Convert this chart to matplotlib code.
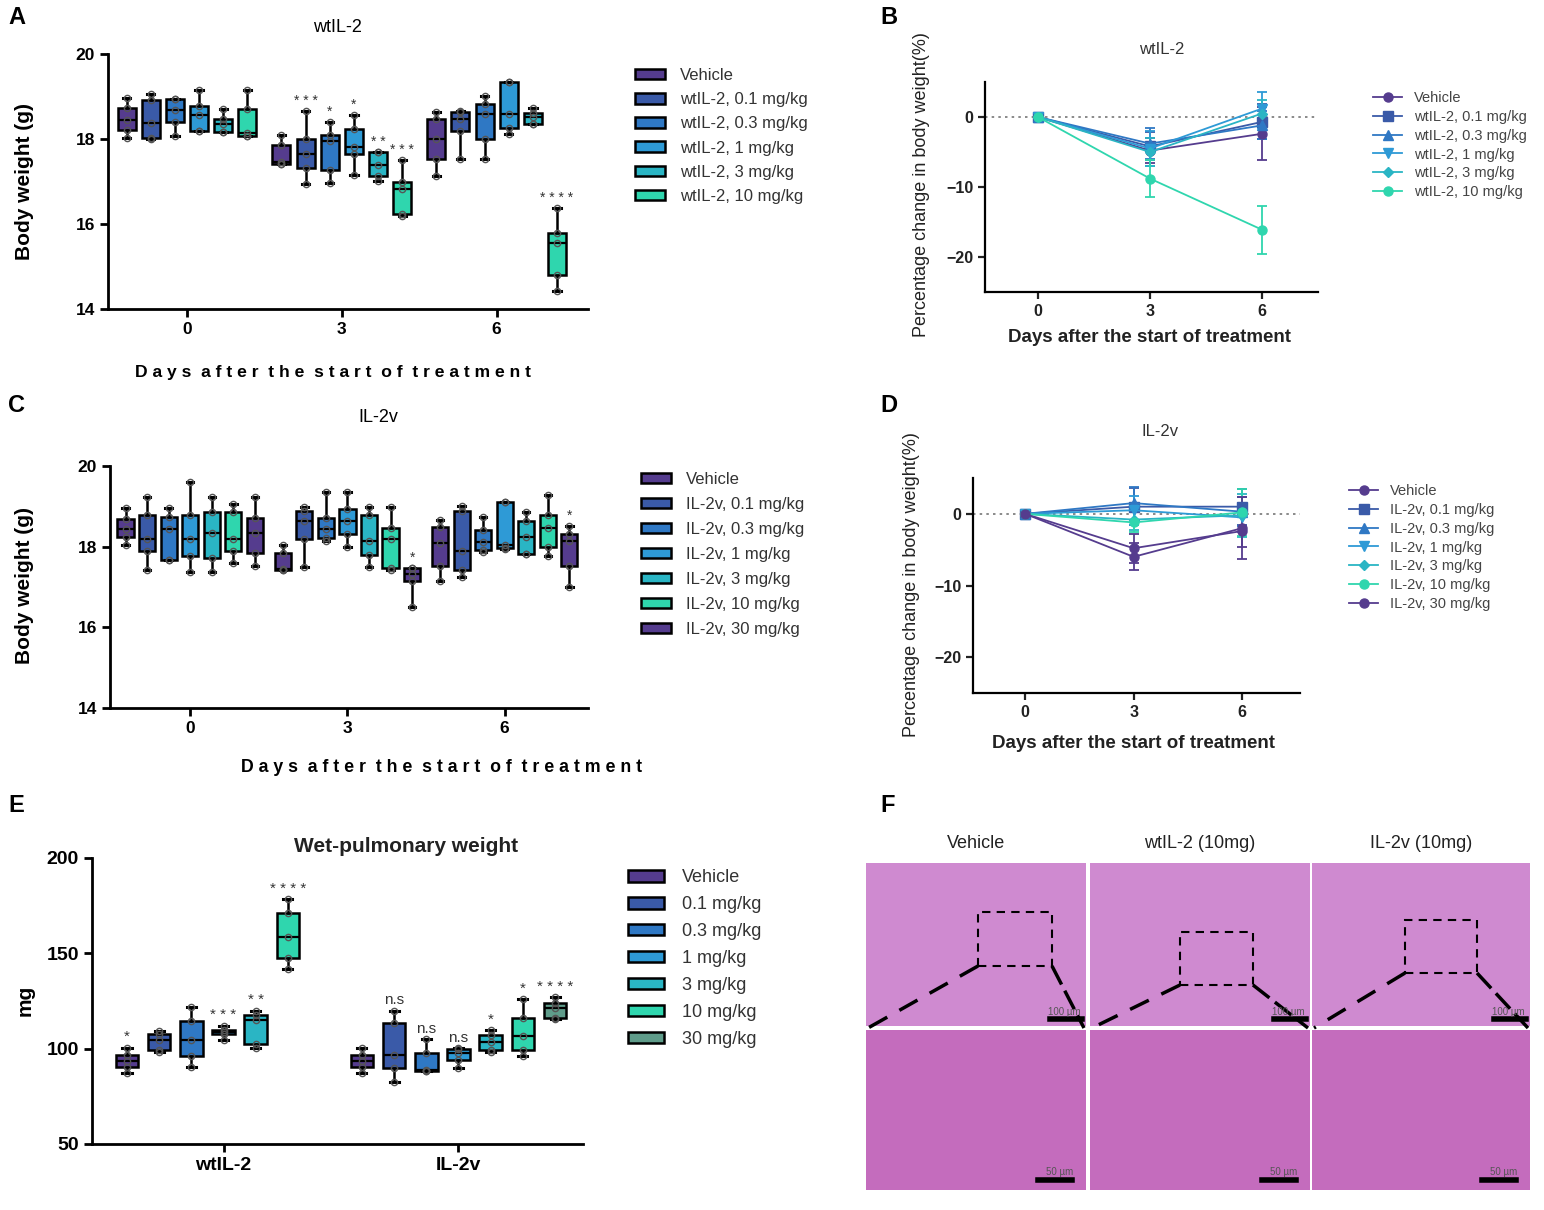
import numpy as np
import matplotlib.pyplot as plt
from matplotlib.patches import Patch, Rectangle
from matplotlib.lines import Line2D

plt.rcParams['font.family'] = ['Liberation Sans', 'DejaVu Sans']

W, H = 1544, 1210

# colours
PURPLE = '#553c8e'
DBLUE = '#3a5aa8'
BLUE = '#2f78c4'
LBLUE = '#2e9ad6'
CYAN = '#2ab5c4'
TEAL = '#2fd6ae'
GREYGREEN = '#5f9c8a'

# ---------------- data ----------------
days = [0, 3, 6]

wt_labels = ['Vehicle', 'wtIL-2, 0.1 mg/kg', 'wtIL-2, 0.3 mg/kg', 'wtIL-2, 1 mg/kg',
             'wtIL-2, 3 mg/kg', 'wtIL-2, 10 mg/kg']
v_labels = ['Vehicle', 'IL-2v, 0.1 mg/kg', 'IL-2v, 0.3 mg/kg', 'IL-2v, 1 mg/kg',
            'IL-2v, 3 mg/kg', 'IL-2v, 10 mg/kg', 'IL-2v, 30 mg/kg']
e_labels = ['Vehicle', '0.1 mg/kg', '0.3 mg/kg', '1 mg/kg', '3 mg/kg', '10 mg/kg', '30 mg/kg']

# box stats: (min, q1, median, q3, max) per dose
a_day0 = [[18.02, 18.22, 18.44, 18.72, 18.97],
          [18.00, 18.02, 18.38, 18.92, 19.06],
          [18.06, 18.40, 18.68, 18.93, 18.93],
          [18.20, 18.20, 18.56, 18.77, 19.15],
          [18.17, 18.17, 18.35, 18.47, 18.70],
          [18.06, 18.06, 18.13, 18.70, 19.15]]
a_day3 = [[17.42, 17.42, 17.45, 17.87, 18.09],
          [16.93, 17.32, 17.65, 18.01, 18.66],
          [16.96, 17.27, 17.95, 18.09, 18.40],
          [17.16, 17.65, 17.81, 18.23, 18.56],
          [17.02, 17.12, 17.38, 17.69, 17.69],
          [16.20, 16.23, 16.82, 17.00, 17.51]]
a_day6 = [[17.14, 17.52, 18.01, 18.48, 18.64],
          [17.52, 18.19, 18.46, 18.64, 18.66],
          [17.54, 17.99, 18.60, 18.82, 19.01],
          [18.11, 18.25, 18.60, 19.35, 19.35],
          [18.35, 18.35, 18.52, 18.62, 18.72],
          [14.43, 14.79, 15.56, 15.78, 16.37]]
a_stars = [['', '', '', '', '', ''],
           ['', '***', '*', '*', '**', '***'],
           ['', '', '', '', '', '****']]

c_day0 = [[18.03, 18.23, 18.44, 18.69, 18.96],
          [17.43, 17.89, 18.19, 18.79, 19.22],
          [17.66, 17.66, 18.44, 18.74, 18.96],
          [17.37, 17.76, 18.19, 18.79, 19.61],
          [17.37, 17.72, 18.33, 18.87, 19.22],
          [17.59, 17.89, 18.19, 18.85, 19.07],
          [17.51, 17.84, 18.33, 18.70, 19.22]]
c_day3 = [[17.43, 17.43, 17.45, 17.84, 18.04],
          [17.49, 18.18, 18.63, 18.89, 18.99],
          [18.15, 18.22, 18.44, 18.71, 19.36],
          [17.99, 18.32, 18.64, 18.93, 19.36],
          [17.49, 17.80, 18.13, 18.79, 18.99],
          [17.43, 17.48, 18.19, 18.46, 18.99],
          [16.51, 17.14, 17.33, 17.48, 17.48]]
c_day6 = [[17.14, 17.53, 18.09, 18.50, 18.66],
          [17.25, 17.43, 17.89, 18.89, 19.01],
          [17.86, 17.92, 18.11, 18.41, 18.74],
          [17.95, 17.97, 18.03, 19.10, 19.10],
          [17.81, 17.82, 18.23, 18.64, 18.87],
          [17.76, 17.99, 18.46, 18.79, 19.28],
          [17.00, 17.53, 18.15, 18.32, 18.52]]
c_stars = [['', '', '', '', '', '', ''],
           ['', '', '', '', '', '', '*'],
           ['', '', '', '', '', '', '*']]

# percentage change in body weight (mean, sd) at days 0, 3, 6
b_mean = [[0, -4.8, -2.4], [0, -4.2, -0.7], [0, -3.8, -1.2],
          [0, -4.5, 1.2], [0, -5.0, 0.5], [0, -8.8, -16.1]]
b_sd = [[0, 1.8, 3.8], [0, 2.0, 2.5], [0, 2.2, 2.0],
        [0, 2.5, 2.4], [0, 2.0, 2.0], [0, 2.6, 3.4]]
d_mean = [[0, -4.8, -2.4], [0, 1.0, 1.0], [0, 1.5, 0.3], [0, 0.5, -0.5],
          [0, -0.8, -0.2], [0, -1.2, 0.2], [0, -6.0, -2.0]]
d_sd = [[0, 2.0, 2.2], [0, 2.6, 2.5], [0, 2.3, 2.0], [0, 2.0, 2.0],
        [0, 1.5, 3.0], [0, 1.4, 3.3], [0, 1.9, 4.3]]

# wet pulmonary weight (mg)
e_groups = ['wtIL-2', 'IL-2v']
e_wt = [[87.1, 90.6, 93.3, 96.7, 100.6],
        [98.0, 99.4, 104.6, 107.7, 109.5],
        [90.6, 96.4, 104.6, 114.5, 121.7],
        [104.6, 107.6, 108.6, 109.8, 112.1],
        [100.2, 102.3, 115.1, 117.7, 119.8],
        [141.7, 147.3, 158.7, 171.4, 178.4]]
e_v = [[87.1, 90.3, 93.6, 96.7, 100.6],
       [82.4, 89.8, 96.7, 113.7, 119.8],
       [88.4, 88.4, 88.9, 97.6, 104.9],
       [89.8, 94.1, 97.6, 99.7, 100.2],
       [98.1, 99.4, 103.7, 107.2, 109.8],
       [96.2, 99.4, 106.7, 116.3, 126.0],
       [115.6, 115.9, 121.5, 123.8, 126.9]]
e_wt_stars = ['*', '', '', '***', '**', '****']
e_v_stars = ['', 'n.s', 'n.s', 'n.s', '*', '*', '****']

wt_colors = [PURPLE, DBLUE, BLUE, LBLUE, CYAN, TEAL]
v_colors = wt_colors + [PURPLE]
e_colors = wt_colors + [GREYGREEN]
b_markers = ['o', 's', '^', 'v', 'D', 'o']
d_markers = ['o', 's', '^', 'v', 'D', 'o', 'o']


def rect(l, t, r, b):
    return [l / W, 1 - b / H, (r - l) / W, (b - t) / H]


def box_group(ax, stats, center, step, colors, width, stars=None, star_fs=10, offsets=None):
    n = len(stats)
    if offsets is None:
        offsets = [i - (n - 1) / 2 for i in range(n)]
    pos = [center + o * step for o in offsets]
    bstats = [dict(whislo=s[0], q1=s[1], med=s[2], q3=s[3], whishi=s[4], fliers=[]) for s in stats]
    bp = ax.bxp(bstats, positions=pos, widths=width * step, patch_artist=True,
                showfliers=False, capwidths=0.4 * step * width,
                boxprops=dict(linewidth=1.8, edgecolor='black'),
                medianprops=dict(color='black', linewidth=1.6),
                whiskerprops=dict(linewidth=1.8), capprops=dict(linewidth=2.2),
                manage_ticks=False)
    for patch, c in zip(bp['boxes'], colors):
        patch.set_facecolor(c)
    for p, s in zip(pos, stats):
        ax.plot([p] * 5, s, 'o', ms=4.5, mfc='none', mec='#555555', mew=1.0, zorder=5)
    if stars:
        yr = ax.get_ylim()
        off = (yr[1] - yr[0]) * 0.012
        for p, s, st in zip(pos, stats, stars):
            if st:
                txt = st if st == 'n.s' else ' '.join(st)
                ax.text(p, s[4] + off, txt, ha='center', va='bottom',
                        fontsize=star_fs, color='#333333')


def style_box_axes(ax):
    for sp in ['top', 'right']:
        ax.spines[sp].set_visible(False)
    for sp in ['left', 'bottom']:
        ax.spines[sp].set_linewidth(2)
    ax.tick_params(width=2, length=6, labelsize=12.5)
    for lab in ax.get_xticklabels() + ax.get_yticklabels():
        lab.set_fontweight('bold')


fig = plt.figure(figsize=(W / 100, H / 100), dpi=100)

XLAB = 'D a y s  a f t e r  t h e  s t a r t  o f  t r e a t m e n t'

# ---------------- A ----------------
axA = fig.add_axes(rect(108, 54, 588, 309))
axA.set_ylim(14, 20)
axA.set_xlim(-0.51, 2.59)
for g, st in enumerate([a_day0, a_day3, a_day6]):
    box_group(axA, st, g, 0.156, wt_colors, 0.75, a_stars[g])
axA.set_yticks([14, 16, 18, 20])
axA.set_xticks([0, 1, 2])
axA.set_xticklabels([str(d) for d in days])
style_box_axes(axA)
fig.text(337 / W, 1 - 27 / H, 'wtIL-2', ha='center', va='center', fontsize=13)
fig.text(25 / W, 1 - 182 / H, 'Body weight (g)', rotation=90, ha='center', va='center',
         fontsize=15, fontweight='bold')
fig.text(333 / W, 1 - 372 / H, XLAB, ha='center', va='center', fontsize=12.6, fontweight='bold')
hA = [Patch(facecolor=c, edgecolor='black', linewidth=1.8) for c in wt_colors]
fig.legend(hA, wt_labels, loc='upper left', bbox_to_anchor=(620 / W, 1 - 53 / H),
           frameon=False, fontsize=12, handlelength=1.8, handleheight=0.6,
           labelspacing=0.55, handletextpad=0.9, labelcolor='#333333')

# ---------------- C ----------------
axC = fig.add_axes(rect(110, 466, 588, 708))
axC.set_ylim(14, 20)
axC.set_xlim(-0.51, 2.53)
for g, st in enumerate([c_day0, c_day3, c_day6]):
    box_group(axC, st, g, 0.137, v_colors, 0.75, c_stars[g])
axC.set_yticks([14, 16, 18, 20])
axC.set_xticks([0, 1, 2])
axC.set_xticklabels([str(d) for d in days])
style_box_axes(axC)
fig.text(378 / W, 1 - 418 / H, 'IL-2v', ha='center', va='center', fontsize=13)
fig.text(25 / W, 1 - 585 / H, 'Body weight (g)', rotation=90, ha='center', va='center',
         fontsize=15, fontweight='bold')
fig.text(442 / W, 1 - 767 / H, XLAB, ha='center', va='center', fontsize=12.8, fontweight='bold')
hC = [Patch(facecolor=c, edgecolor='black', linewidth=1.8) for c in v_colors]
fig.legend(hC, v_labels, loc='upper left', bbox_to_anchor=(626 / W, 1 - 457 / H),
           frameon=False, fontsize=12, handlelength=1.8, handleheight=0.6,
           labelspacing=0.6, handletextpad=0.9, labelcolor='#333333')


# ---------------- B / D ----------------
def line_panel(ax, means, sds, colors, markers, labels, title, tx, ty, lx, ly, legx, legy, ylx, yly):
    ax.axhline(0, color='#777777', ls=(0, (1.5, 2.5)), lw=1.2, zorder=0)
    handles = []
    for m, s, c, mk in zip(means, sds, colors, markers):
        ms = 5 if mk == 'D' else 6.5
        ax.errorbar(days, m, yerr=s, color=c, marker=mk, ms=ms, lw=1.3,
                    capsize=3.5, elinewidth=1.3, capthick=1.3)
        handles.append(Line2D([], [], color=c, marker=mk, ms=ms, lw=1.3))
    ax.set_ylim(-25, 5)
    ax.set_yticks([-20, -10, 0])
    ax.set_xticks(days)
    for sp in ['top', 'right']:
        ax.spines[sp].set_visible(False)
    for sp in ['left', 'bottom']:
        ax.spines[sp].set_linewidth(1.6)
    ax.tick_params(width=1.6, length=5, labelsize=11.5, colors='#222222')
    for lab in ax.get_xticklabels() + ax.get_yticklabels():
        lab.set_fontweight('bold')
    fig.text(tx / W, 1 - ty / H, title, ha='center', va='center', fontsize=12, color='#333333')
    fig.text(lx / W, 1 - ly / H, 'Days after the start of treatment', ha='center', va='center',
             fontsize=13.5, fontweight='bold', color='#222222')
    fig.text(ylx / W, 1 - yly / H, 'Percentage change in body weight(%)', rotation=90,
             ha='center', va='center', fontsize=13, color='#222222')
    fig.legend(handles, labels, loc='upper left', bbox_to_anchor=(legx / W, 1 - legy / H),
               frameon=False, fontsize=10.5, handlelength=2.0, labelspacing=0.33,
               handletextpad=0.8, labelcolor='#444444')


axB = fig.add_axes(rect(985, 82, 1318, 292))
axB.set_xlim(-1.42, 7.5)
line_panel(axB, b_mean, b_sd, wt_colors, b_markers, wt_labels, 'wtIL-2',
           1162, 50, 1149, 337, 1360, 78, 922, 185)

axD = fig.add_axes(rect(973, 478, 1300, 693))
axD.set_xlim(-1.44, 7.6)
line_panel(axD, d_mean, d_sd, v_colors, d_markers, v_labels, 'IL-2v',
           1160, 432, 1133, 743, 1336, 471, 912, 585)

# ---------------- E ----------------
axE = fig.add_axes(rect(92, 858, 583, 1144))
axE.set_ylim(50, 200)
axE.set_xlim(-0.56, 1.53)
box_group(axE, e_wt, 0, 0.137, e_colors[:6], 0.7, e_wt_stars, star_fs=11,
          offsets=[-3, -2, -1, 0, 1, 2])
box_group(axE, e_v, 1, 0.137, e_colors, 0.7, e_v_stars, star_fs=11,
          offsets=[-3, -2, -1, 0, 1, 2, 3])
axE.set_yticks([50, 100, 150, 200])
axE.set_xticks([0, 1])
axE.set_xticklabels(e_groups)
style_box_axes(axE)
axE.tick_params(axis='x', labelsize=14)
axE.tick_params(axis='y', labelsize=14)
fig.text(406 / W, 1 - 846 / H, 'Wet-pulmonary weight', ha='center', va='center',
         fontsize=15, fontweight='bold', color='#222222')
fig.text(25 / W, 1 - 1000 / H, 'mg', rotation=90, ha='center', va='center',
         fontsize=15, fontweight='bold')
hE = [Patch(facecolor=c, edgecolor='black', linewidth=1.8) for c in e_colors]
fig.legend(hE, e_labels, loc='upper left', bbox_to_anchor=(612 / W, 1 - 853 / H),
           frameon=False, fontsize=13, handlelength=2.0, handleheight=0.6,
           labelspacing=0.55, handletextpad=1.0, labelcolor='#333333')

# ---------------- F ----------------
f_titles = ['Vehicle', 'wtIL-2 (10mg)', 'IL-2v (10mg)']
f_cols = [(866, 1086), (1090, 1310), (1312, 1530)]
f_zoom = [(978, 912, 1052, 966), (1180, 932, 1253, 985), (1405, 920, 1477, 973)]
for (l, r), ttl, (zl, zt, zr, zb) in zip(f_cols, f_titles, f_zoom):
    top = fig.add_axes(rect(l, 863, r, 1026))
    bot = fig.add_axes(rect(l, 1030, r, 1190))
    top.set_facecolor('#cf8ad0')
    bot.set_facecolor('#c46cbd')
    for a in (top, bot):
        a.set_xticks([])
        a.set_yticks([])
        for sp in a.spines.values():
            sp.set_visible(False)
    fig.text((l + r) / 2 / W, 1 - 843 / H, ttl, ha='center', va='center', fontsize=13,
             color='#222222')
    fig.add_artist(Rectangle((zl / W, 1 - zb / H), (zr - zl) / W, (zb - zt) / H,
                             transform=fig.transFigure, fill=False, ec='black', lw=1.5,
                             ls=(0, (4, 3))))
    fig.add_artist(Line2D([zl / W, (l + 2) / W], [1 - zb / H, 1 - 1028 / H],
                          transform=fig.transFigure, color='black', lw=2.5, ls=(0, (6, 4))))
    fig.add_artist(Line2D([zr / W, (r - 2) / W], [1 - zb / H, 1 - 1028 / H],
                          transform=fig.transFigure, color='black', lw=2.5, ls=(0, (6, 2))))
    fig.add_artist(Line2D([(r - 36) / W, (r - 4) / W], [1 - 1019 / H, 1 - 1019 / H],
                          transform=fig.transFigure, color='black', lw=4))
    fig.add_artist(Line2D([(r - 48) / W, (r - 14) / W], [1 - 1180 / H, 1 - 1180 / H],
                          transform=fig.transFigure, color='black', lw=4))
    fig.text((r - 22) / W, 1 - 1012 / H, '100 µm', ha='center', va='center', fontsize=7,
             color='#555555')
    fig.text((r - 26) / W, 1 - 1172 / H, '50 µm', ha='center', va='center', fontsize=7,
             color='#555555')

# panel letters
for lab, x, y in [('A', 8, 18), ('B', 880, 18), ('C', 8, 405), ('D', 880, 405),
                  ('E', 8, 805), ('F', 880, 805)]:
    fig.text(x / W, 1 - y / H, lab, ha='left', va='center', fontsize=17, fontweight='bold')

fig.savefig('out.png', dpi=100)
